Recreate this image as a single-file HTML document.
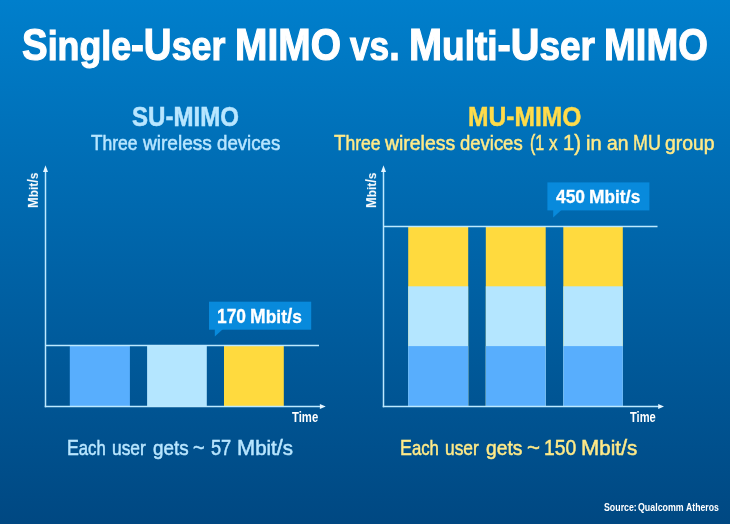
<!DOCTYPE html>
<html>
<head>
<meta charset="utf-8">
<style>
html,body{margin:0;padding:0;}
body{width:730px;height:524px;overflow:hidden;position:relative;
  background:linear-gradient(to bottom,#007FCC 0%,#0063A7 50%,#004882 100%);
  font-family:"Liberation Sans",sans-serif;}
.t{position:absolute;white-space:nowrap;transform-origin:0 0;line-height:1;}
.b{font-weight:bold;}
.r{position:absolute;}
svg.r,.t{filter:blur(0.35px);}
</style>
</head>
<body>
<svg class="r" style="left:0;top:0" width="730" height="524" viewBox="0 0 730 524">
  <rect x="69.8" y="346" width="60.1" height="60" fill="#58AEFD"/>
  <rect x="147.1" y="346" width="59.7" height="60" fill="#B4E6FF"/>
  <rect x="224" y="346" width="59.8" height="60" fill="#FFDA3E"/>
  <rect x="408.2" y="227" width="60.0" height="179" fill="#FFDA3E"/>
  <rect x="408.2" y="286.3" width="60.0" height="119.7" fill="#B4E6FF"/>
  <rect x="408.2" y="346.1" width="60.0" height="59.9" fill="#58AEFD"/>
  <rect x="485.8" y="227" width="59.9" height="179" fill="#FFDA3E"/>
  <rect x="485.8" y="286.3" width="59.9" height="119.7" fill="#B4E6FF"/>
  <rect x="485.8" y="346.1" width="59.9" height="59.9" fill="#58AEFD"/>
  <rect x="563.3" y="227" width="59.5" height="179" fill="#FFDA3E"/>
  <rect x="563.3" y="286.3" width="59.5" height="119.7" fill="#B4E6FF"/>
  <rect x="563.3" y="346.1" width="59.5" height="59.9" fill="#58AEFD"/>
  <g stroke="#BDE9FF" stroke-width="1.5" fill="none">
    <line x1="45.5" y1="170" x2="45.5" y2="407.25"/>
    <line x1="44.75" y1="406.5" x2="321" y2="406.5"/>
    <line x1="45.5" y1="345.5" x2="319" y2="345.5"/>
    <line x1="383.5" y1="170" x2="383.5" y2="407.25"/>
    <line x1="382.75" y1="406.5" x2="659" y2="406.5"/>
    <line x1="383.5" y1="226.5" x2="657.5" y2="226.5"/>
  </g>
  <g fill="#E6F6FF">
    <polygon points="45.5,165.2 43,172 48,172"/>
    <polygon points="383.5,165.2 381,172 386,172"/>
    <polygon points="325.7,406.5 319.9,404 319.9,409"/>
    <polygon points="664,406.5 658.2,404 658.2,409"/>
  </g>
  <g fill="#088ADC">
    <rect x="209" y="301.7" width="102.2" height="28"/>
    <polygon points="214.8,329 223,329 214.8,336.5"/>
    <rect x="547.4" y="182.4" width="102" height="28"/>
    <polygon points="553.2,210 561.4,210 553.2,217.5"/>
  </g>
</svg>
<div class="t b" style="left:21.84px;top:23px;font-size:44.33px;color:#FFFFFF;-webkit-text-stroke:1.2px #FFFFFF;transform:scaleX(0.8672);">S<span style="font-size:0.93em">ingle</span>-U<span style="font-size:0.93em">ser</span></div>
<div class="t b" style="left:234.62px;top:23px;font-size:44.33px;color:#FFFFFF;-webkit-text-stroke:1.2px #FFFFFF;transform:scaleX(0.8778);">MIMO</div>
<div class="t b" style="left:349.53px;top:23px;font-size:44.33px;color:#FFFFFF;-webkit-text-stroke:1.2px #FFFFFF;transform:scaleX(0.8545);"><span style="font-size:0.93em">vs</span>.</div>
<div class="t b" style="left:408.78px;top:23px;font-size:44.33px;color:#FFFFFF;-webkit-text-stroke:1.2px #FFFFFF;transform:scaleX(0.8960);">M<span style="font-size:0.93em">ulti</span>-U<span style="font-size:0.93em">ser</span></div>
<div class="t b" style="left:604.16px;top:23px;font-size:44.33px;color:#FFFFFF;-webkit-text-stroke:1.2px #FFFFFF;transform:scaleX(0.8607);">MIMO</div>
<div class="t b" style="left:132.45px;top:103px;font-size:27.91px;color:#B8E6FF;-webkit-text-stroke:0.5px #B8E6FF;transform:scaleX(0.8624);">SU-MIMO</div>
<div class="t b" style="left:467.62px;top:103px;font-size:27.91px;color:#FFDC4A;-webkit-text-stroke:0.5px #FFDC4A;transform:scaleX(0.8819);">MU-MIMO</div>
<div class="t" style="left:91.22px;top:133px;font-size:21.51px;color:#B8E6FF;-webkit-text-stroke:0.5px #B8E6FF;transform:scaleX(0.8755);">T<span style="font-size:0.93em">hree</span></div>
<div class="t" style="left:142.59px;top:133px;font-size:21.51px;color:#B8E6FF;-webkit-text-stroke:0.5px #B8E6FF;transform:scaleX(0.9517);"><span style="font-size:0.93em">wireless</span></div>
<div class="t" style="left:217.16px;top:133px;font-size:21.51px;color:#B8E6FF;-webkit-text-stroke:0.5px #B8E6FF;transform:scaleX(0.9339);"><span style="font-size:0.93em">devices</span></div>
<div class="t" style="left:333.92px;top:133px;font-size:21.51px;color:#FFEA88;-webkit-text-stroke:0.5px #FFEA88;transform:scaleX(0.8755);">T<span style="font-size:0.93em">hree</span></div>
<div class="t" style="left:384.89px;top:133px;font-size:21.51px;color:#FFEA88;-webkit-text-stroke:0.5px #FFEA88;transform:scaleX(0.9711);"><span style="font-size:0.93em">wireless</span></div>
<div class="t" style="left:460.46px;top:133px;font-size:21.51px;color:#FFEA88;-webkit-text-stroke:0.5px #FFEA88;transform:scaleX(0.9234);"><span style="font-size:0.93em">devices</span></div>
<div class="t" style="left:529.50px;top:133px;font-size:21.51px;color:#FFEA88;-webkit-text-stroke:0.5px #FFEA88;transform:scaleX(0.7422);">(1</div>
<div class="t" style="left:549.29px;top:133px;font-size:21.51px;color:#FFEA88;-webkit-text-stroke:0.5px #FFEA88;transform:scaleX(0.8536);"><span style="font-size:0.93em">x</span></div>
<div class="t" style="left:563.22px;top:133px;font-size:21.51px;color:#FFEA88;-webkit-text-stroke:0.5px #FFEA88;transform:scaleX(0.9428);">1)</div>
<div class="t" style="left:586.01px;top:133px;font-size:21.51px;color:#FFEA88;-webkit-text-stroke:0.5px #FFEA88;transform:scaleX(1.0040);"><span style="font-size:0.93em">in</span></div>
<div class="t" style="left:606.73px;top:133px;font-size:21.51px;color:#FFEA88;-webkit-text-stroke:0.5px #FFEA88;transform:scaleX(0.9640);"><span style="font-size:0.93em">an</span></div>
<div class="t" style="left:632.50px;top:133px;font-size:21.51px;color:#FFEA88;-webkit-text-stroke:0.5px #FFEA88;transform:scaleX(0.8310);">MU</div>
<div class="t" style="left:665.03px;top:133px;font-size:21.51px;color:#FFEA88;-webkit-text-stroke:0.5px #FFEA88;transform:scaleX(0.9705);"><span style="font-size:0.93em">group</span></div>
<div class="t b" style="left:217.22px;top:307px;font-size:19.62px;color:#FFFFFF;-webkit-text-stroke:0.3px #FFFFFF;transform:scaleX(0.8864);">170</div>
<div class="t b" style="left:250.27px;top:307px;font-size:19.62px;color:#FFFFFF;-webkit-text-stroke:0.3px #FFFFFF;transform:scaleX(0.9612);">M<span style="font-size:0.92em">bit</span>/<span style="font-size:0.92em">s</span></div>
<div class="t b" style="left:555.67px;top:187px;font-size:19.19px;color:#FFFFFF;-webkit-text-stroke:0.3px #FFFFFF;transform:scaleX(0.9066);">450</div>
<div class="t b" style="left:588.89px;top:187px;font-size:19.19px;color:#FFFFFF;-webkit-text-stroke:0.3px #FFFFFF;transform:scaleX(0.9712);">M<span style="font-size:0.92em">bit</span>/<span style="font-size:0.92em">s</span></div>
<div class="t b" style="left:291.96px;top:410px;font-size:14.53px;color:#FFFFFF;transform:scaleX(0.7781);">Time</div>
<div class="t b" style="left:630.46px;top:410px;font-size:14.53px;color:#FFFFFF;transform:scaleX(0.7659);">Time</div>
<div class="t" style="left:67.11px;top:437px;font-size:21.80px;color:#B8E6FF;-webkit-text-stroke:0.5px #B8E6FF;transform:scaleX(0.8132);">E<span style="font-size:0.94em">ach</span></div>
<div class="t" style="left:112.39px;top:437px;font-size:21.80px;color:#B8E6FF;-webkit-text-stroke:0.5px #B8E6FF;transform:scaleX(0.8478);"><span style="font-size:0.94em">user</span></div>
<div class="t" style="left:152.97px;top:437px;font-size:21.80px;color:#B8E6FF;-webkit-text-stroke:0.5px #B8E6FF;transform:scaleX(0.9175);"><span style="font-size:0.94em">gets</span></div>
<div class="t" style="left:193.41px;top:437px;font-size:21.80px;color:#B8E6FF;-webkit-text-stroke:0.5px #B8E6FF;transform:scaleX(0.9096);">~</div>
<div class="t" style="left:210.73px;top:437px;font-size:21.80px;color:#B8E6FF;-webkit-text-stroke:0.5px #B8E6FF;transform:scaleX(0.8346);">57</div>
<div class="t" style="left:236.83px;top:437px;font-size:21.80px;color:#B8E6FF;-webkit-text-stroke:0.5px #B8E6FF;transform:scaleX(0.9983);">M<span style="font-size:0.94em">bit</span>/<span style="font-size:0.94em">s</span></div>
<div class="t" style="left:399.70px;top:437px;font-size:21.80px;color:#FFEA88;-webkit-text-stroke:0.5px #FFEA88;transform:scaleX(0.8176);">E<span style="font-size:0.94em">ach</span></div>
<div class="t" style="left:445.19px;top:437px;font-size:21.80px;color:#FFEA88;-webkit-text-stroke:0.5px #FFEA88;transform:scaleX(0.8478);"><span style="font-size:0.94em">user</span></div>
<div class="t" style="left:485.65px;top:437px;font-size:21.80px;color:#FFEA88;-webkit-text-stroke:0.5px #FFEA88;transform:scaleX(0.9389);"><span style="font-size:0.94em">gets</span></div>
<div class="t" style="left:527.12px;top:437px;font-size:21.80px;color:#FFEA88;-webkit-text-stroke:0.5px #FFEA88;transform:scaleX(1.0166);">~</div>
<div class="t" style="left:544.40px;top:437px;font-size:21.80px;color:#FFEA88;-webkit-text-stroke:0.5px #FFEA88;transform:scaleX(0.8861);">150</div>
<div class="t" style="left:581.33px;top:437px;font-size:21.80px;color:#FFEA88;-webkit-text-stroke:0.5px #FFEA88;transform:scaleX(1.0039);">M<span style="font-size:0.94em">bit</span>/<span style="font-size:0.94em">s</span></div>
<div class="t b" style="left:604.11px;top:502px;font-size:11.48px;color:#FFFFFF;transform:scaleX(0.7676);">Source:</div>
<div class="t b" style="left:638.24px;top:502px;font-size:11.48px;color:#FFFFFF;transform:scaleX(0.7702);">Qualcomm</div>
<div class="t b" style="left:686.36px;top:502px;font-size:11.48px;color:#FFFFFF;transform:scaleX(0.7564);">Atheros</div>
<div class="t b" style="left:0;top:0;font-size:14.68px;color:#FFFFFF;transform:translate(25.89px,207.96px) rotate(-90deg) scaleX(0.8775);">M<span style="font-size:0.92em">bit</span>/<span style="font-size:0.92em">s</span></div>
<div class="t b" style="left:0;top:0;font-size:14.68px;color:#FFFFFF;transform:translate(364.09px,207.96px) rotate(-90deg) scaleX(0.8775);">M<span style="font-size:0.92em">bit</span>/<span style="font-size:0.92em">s</span></div>
</body>
</html>
